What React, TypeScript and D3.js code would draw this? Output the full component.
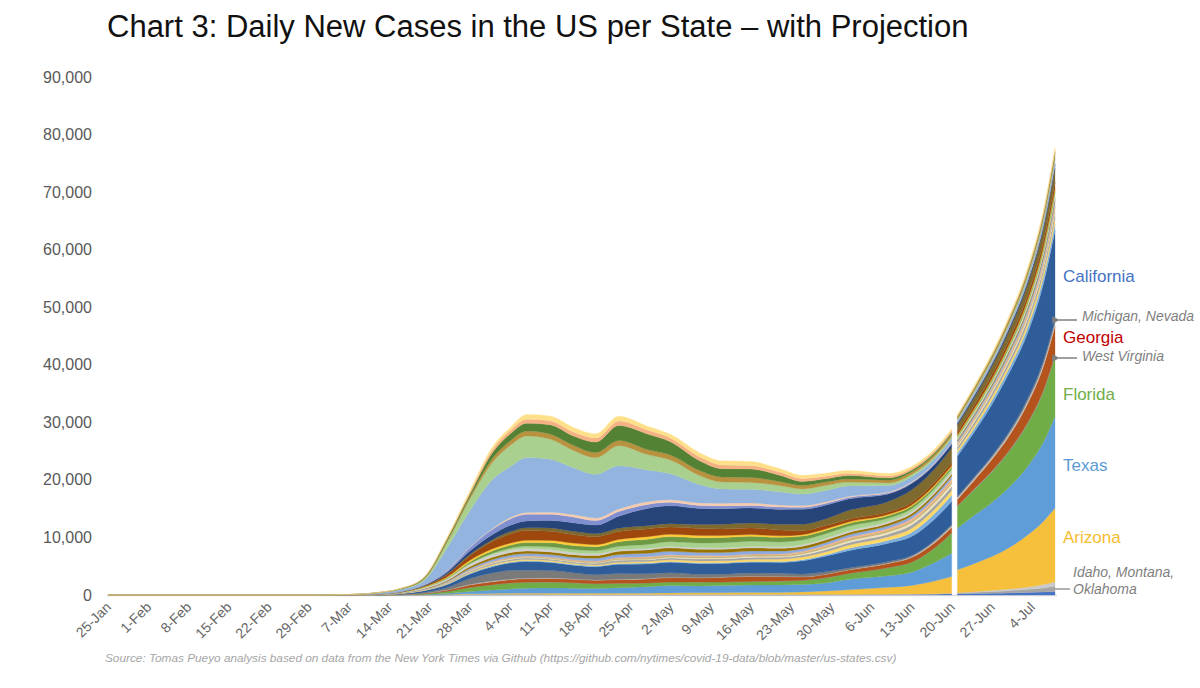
import React from "react";
import * as d3 from "d3";

// ---------- DATA ----------
const actualDates = [
  "2020-01-25", "2020-02-29", "2020-03-07", "2020-03-12", "2020-03-16", "2020-03-20", "2020-03-24",
  "2020-03-28", "2020-04-01", "2020-04-04", "2020-04-07", "2020-04-11", "2020-04-15", "2020-04-19",
  "2020-04-23", "2020-04-28", "2020-05-02", "2020-05-07", "2020-05-11", "2020-05-16", "2020-05-21",
  "2020-05-25", "2020-05-29", "2020-06-02", "2020-06-09", "2020-06-13", "2020-06-17", "2020-06-20",
];
const projectionDates = ["2020-06-21", "2020-06-24", "2020-06-27", "2020-06-30", "2020-07-03", "2020-07-06", "2020-07-08"];

const oklahoma = [0,0,0,0,2,10,30,50,70,80,80,70,60,60,60,60,60,60,60,60,60,60,70,80,90,110,150,200, 200,250,300,360,430,520,600];
const idaho = [0,0,0,0,1,5,20,50,60,50,40,30,20,15,15,10,10,10,10,10,10,10,20,20,30,40,60,80, 150,220,300,400,530,700,900];
const montana = [0,0,0,0,0,2,8,15,20,15,10,8,5,5,5,5,5,5,5,5,5,5,5,5,10,15,20,20, 50,110,180,270,400,600,800];
const arizona = [0,0,0,1,5,15,40,90,120,150,180,200,200,210,230,250,280,300,330,350,380,450,600,800,1200,1500,2200,2900, 4000,4900,5900,7200,8900,11000,12800];
const texas = [0,0,0,2,10,40,150,400,600,750,870,900,900,850,950,1100,1300,1200,1250,1300,1300,1300,1400,1800,2000,2300,3200,4050, 7200,8400,9400,10500,11800,13800,15900];
const florida = [0,0,1,10,40,150,350,700,900,1000,1000,1000,900,800,750,650,600,650,600,600,650,700,870,1000,1400,1700,2500,3500, 3800,4500,5300,6200,7300,8800,10400];
const westVirginia = [0,0,0,0,0,2,8,15,30,40,50,50,30,20,20,20,20,20,20,20,20,20,30,30,40,40,50,60, 100,120,150,180,220,260,300];
const georgia = [0,0,0,5,20,70,200,400,500,550,580,600,600,600,650,700,750,700,800,870,750,600,580,600,700,800,850,900, 1100,1500,2000,2500,3200,4100,5000];
const nevada = [0,0,0,2,10,30,60,100,120,110,100,90,70,60,60,50,50,50,40,40,40,40,50,60,90,150,250,330, 320,360,400,440,490,550,600];
const michigan = [0,0,0,5,50,120,400,1000,1400,1500,1400,1300,1100,900,1000,850,800,600,500,580,550,450,400,300,250,200,200,200, 200,230,270,320,380,440,500];
const california = [0,0,10,40,120,300,500,800,1100,1300,1500,1400,1300,1400,1600,1700,1800,1850,1850,1850,1900,2300,2700,3000,3200,3300,3700,4000, 7000,7800,8900,10200,11300,13400,15500];
const southCarolina = [0,0,0,2,10,30,60,100,150,150,150,150,140,130,140,160,150,160,150,150,160,200,250,400,500,700,950,1100, 600,670,740,820,930,1060,1200];
const alabama = [0,0,0,2,10,40,80,150,180,200,200,200,180,160,200,250,280,300,320,350,400,450,500,550,600,700,750,800, 450,500,550,610,690,790,900];
const tennessee = [0,0,0,5,20,60,120,200,250,250,250,230,250,300,350,300,320,350,350,350,320,350,400,450,500,600,650,700, 500,560,610,680,770,880,1000];
const utah = [0,0,0,1,10,30,70,100,100,100,90,80,80,90,100,120,150,160,150,160,170,200,250,300,350,400,450,500, 250,280,310,340,390,440,500];
const mississippi = [0,0,0,1,10,40,80,120,150,180,200,200,200,220,250,260,270,280,250,250,260,270,300,320,350,350,380,400, 250,280,310,340,390,440,500];
const arkansas = [0,0,0,1,5,20,40,60,70,70,80,80,80,80,120,150,150,150,150,150,150,180,220,260,300,350,400,450, 230,250,280,310,350,400,450];
const ohio = [0,0,0,2,15,60,140,250,350,400,420,450,450,500,550,600,600,550,550,550,500,450,450,450,450,450,480,500, 350,390,430,480,540,620,700];
const indiana = [0,0,0,1,5,40,120,300,400,450,450,450,450,450,550,600,600,550,550,550,500,450,450,400,400,400,380,350, 200,220,250,270,310,350,400];
const washington = [0,0,20,60,120,200,300,400,450,450,450,400,350,300,250,250,250,250,250,250,250,250,280,300,300,350,380,400, 250,280,310,340,390,440,500];
const virginia = [0,0,0,2,10,30,60,150,250,330,400,500,550,550,600,700,800,850,900,900,850,800,800,800,600,550,520,500, 250,280,310,340,390,440,500];
const maryland = [0,0,0,3,10,40,100,250,400,500,600,700,700,700,800,900,900,900,900,850,800,700,600,500,450,400,350,300, 180,200,210,240,270,310,350];
const colorado = [0,0,0,5,30,90,150,300,350,350,400,400,400,350,400,450,400,400,350,300,250,250,250,250,200,200,200,200, 150,170,180,200,230,260,300];
const louisiana = [0,0,0,5,30,100,400,800,1300,1600,1700,1600,1500,1400,1400,1330,1250,1200,1150,1150,1000,700,580,500,450,450,500,600, 550,610,680,750,850,970,1100];
const northCarolina = [0,0,0,2,10,40,100,200,300,400,500,550,550,500,550,580,600,700,800,870,1000,1100,1160,1500,1800,2200,2300,2500, 1200,1340,1470,1640,1850,2120,2400];
const illinois = [0,0,0,5,30,100,300,600,900,1100,1160,1300,1500,1500,2100,3000,3100,2800,2700,2600,2600,2600,2400,2000,1300,1100,800,700, 350,390,430,480,540,620,700];
const connecticut = [0,0,0,2,20,60,300,600,900,1100,1160,1100,1000,800,800,700,600,500,500,450,400,350,300,250,200,150,150,150, 60,70,70,80,90,110,120];
const delaware = [0,0,0,0,2,10,30,80,150,250,300,350,400,420,450,460,460,460,450,400,350,300,250,200,150,120,100,100, 50,60,60,70,80,90,100];
const newYork = [0,0,50,200,350,700,3800,6300,8500,8800,9560,9200,8200,7600,7500,5500,4500,3200,2500,2400,2300,2000,2000,1800,1100,900,700,700, 350,390,430,480,540,620,700];
const newJersey = [0,0,5,30,80,250,1000,2000,3000,3700,3760,3500,3000,2900,3500,2700,2400,1600,1200,1200,1100,900,870,700,450,400,380,350, 180,200,210,240,270,310,350];
const pennsylvania = [0,0,0,5,30,100,250,400,700,800,870,900,900,900,900,870,870,870,870,870,700,600,580,550,500,450,450,450, 350,390,430,480,540,620,700];
const massachusetts = [0,0,5,20,50,150,300,450,1000,1200,1330,1600,1600,1800,2600,2700,2300,1700,1450,1450,1100,700,580,600,400,300,250,250, 130,140,150,170,190,220,250];
const rhodeIsland = [0,0,0,5,20,60,150,300,500,600,700,700,700,700,800,700,650,700,650,600,550,500,450,400,350,300,300,300, 150,170,180,200,230,260,300];
const newHampshire = [0,0,0,5,20,60,150,300,500,500,800,800,800,750,800,650,650,700,700,700,600,550,500,450,400,350,350,350, 240,270,290,330,370,420,480];

const stateNames = [
  "Oklahoma", "Idaho", "Montana", "Arizona", "Texas", "Florida", "West Virginia", "Georgia", "Nevada",
  "Michigan", "California", "South Carolina", "Alabama", "Tennessee", "Utah", "Mississippi", "Arkansas",
  "Ohio", "Indiana", "Washington", "Virginia", "Maryland", "Colorado", "Louisiana", "North Carolina",
  "Illinois", "Connecticut", "Delaware", "New York", "New Jersey", "Pennsylvania", "Massachusetts",
  "Rhode Island", "New Hampshire",
];
const stateValues = [
  oklahoma, idaho, montana, arizona, texas, florida, westVirginia, georgia, nevada, michigan, california,
  southCarolina, alabama, tennessee, utah, mississippi, arkansas, ohio, indiana, washington, virginia,
  maryland, colorado, louisiana, northCarolina, illinois, connecticut, delaware, newYork, newJersey,
  pennsylvania, massachusetts, rhodeIsland, newHampshire,
];
const stateColors = [
  "#4472C4", "#A5A5A5", "#C9C9C9", "#F6BF3C", "#5F9DD8", "#70AD47", "#8C8C8C", "#B4531B", "#BDBDBD",
  "#7A7A7A", "#2F5D9A", "#7CAFDD", "#FFD966", "#A5A5A5", "#EEE4BE", "#C9B57A", "#F4B183",
  "#8FAADC", "#997300", "#D0D0D0", "#A9D18E", "#6F9A45", "#FFCD33", "#9E480E", "#7E6A2F",
  "#264478", "#7F8FD0", "#F8CBAD", "#92B4DE", "#A9D08E", "#B8923F", "#548235",
  "#F4B183", "#FFE08A",
];

const yTicks = [0, 10000, 20000, 30000, 40000, 50000, 60000, 70000, 80000, 90000];

const FONT = "'Liberation Sans', Arial, Helvetica, sans-serif";

export default function App() {
  const parse = d3.timeParse("%Y-%m-%d");
  const allDates = [...actualDates, ...projectionDates].map((s) => parse(s) as Date);

  const x = d3.scaleTime().domain([parse("2020-01-25") as Date, parse("2020-07-08") as Date]).range([108, 1055]);
  const y = d3.scaleLinear().domain([0, 90000]).range([595, 77]);

  const rows = allDates.map((d, i) => {
    const r: any = { date: d };
    stateNames.forEach((n, k) => (r[n] = stateValues[k][i]));
    return r;
  });
  const nA = actualDates.length;
  const stack = d3.stack<any>().keys(stateNames);
  const actualStack = stack(rows.slice(0, nA));
  const projStack = stack(rows.slice(nA));

  const area = d3
    .area<any>()
    .x((d: any) => x(d.data.date))
    .y0((d: any) => y(d[0]))
    .y1((d: any) => y(d[1]))
    .curve(d3.curveMonotoneX);

  const xTicks = d3.timeSaturday.range(parse("2020-01-25") as Date, parse("2020-07-05") as Date);
  const fmtDate = d3.timeFormat("%-d-%b");
  const fmtNum = d3.format(",");

  const gray = "#7F7F7F";

  return (
    <svg
      width={1200}
      height={688}
      style={{ position: "absolute", left: 0, top: 0, background: "#fff", fontFamily: FONT }}
    >
      <defs>
        <marker id="arr" viewBox="0 0 10 10" refX="1" refY="5" markerWidth="5" markerHeight="5" orient="auto">
          <path d="M10,0 L0,5 L10,10 z" fill={gray} />
        </marker>
      </defs>
      <rect x={0} y={0} width={1200} height={688} fill="#fff" />

      <text x={107} y={37} fontSize={31} fill="#111">
        Chart 3: Daily New Cases in the US per State – with Projection
      </text>

      {/* y axis labels */}
      {yTicks.map((t) => (
        <text key={t} x={92} y={y(t)} dy="0.35em" textAnchor="end" fontSize={16} fill="#595959">
          {fmtNum(t)}
        </text>
      ))}

      {/* baseline */}
      <line x1={107} x2={1057} y1={y(0) + 0.5} y2={y(0) + 0.5} stroke="#D9D9D9" strokeWidth={1.5} />

      {/* stacked areas */}
      <g>
        {actualStack.map((s, i) => (
          <path key={"a" + i} d={area(s) || ""} fill={stateColors[i]} stroke={stateColors[i]} strokeWidth={0.3} />
        ))}
        {projStack.map((s, i) => (
          <path key={"p" + i} d={area(s) || ""} fill={stateColors[i]} stroke={stateColors[i]} strokeWidth={0.3} />
        ))}
      </g>

      {/* x tick labels */}
      {xTicks.map((d, i) => (
        <text
          key={i}
          transform={`translate(${x(d) + 4},${608}) rotate(-45)`}
          textAnchor="end"
          fontSize={14}
          fill="#666666"
        >
          {fmtDate(d)}
        </text>
      ))}

      {/* right labels */}
      <text x={1063} y={282} fontSize={17} fill="#4472C4">California</text>
      <text x={1082} y={321} fontSize={14} fontStyle="italic" fill={gray}>Michigan, Nevada</text>
      <line x1={1077} x2={1059} y1={320} y2={320} stroke={gray} strokeWidth={1.5} markerEnd="url(#arr)" />
      <text x={1063} y={343} fontSize={17} fill="#C00000">Georgia</text>
      <text x={1082} y={361} fontSize={14} fontStyle="italic" fill={gray}>West Virginia</text>
      <line x1={1077} x2={1059} y1={358} y2={358} stroke={gray} strokeWidth={1.5} markerEnd="url(#arr)" />
      <text x={1063} y={400} fontSize={17} fill="#70AD47">Florida</text>
      <text x={1063} y={471} fontSize={17} fill="#5B9BD5">Texas</text>
      <text x={1063} y={543} fontSize={17} fill="#F5BC2E">Arizona</text>
      <text x={1073} y={577} fontSize={14} fontStyle="italic" fill={gray}>Idaho, Montana,</text>
      <text x={1073} y={594} fontSize={14} fontStyle="italic" fill={gray}>Oklahoma</text>
      <line x1={1055} x2={1070} y1={589} y2={589} stroke={gray} strokeWidth={1.2} />

      {/* source */}
      <text x={105} y={662} fontSize={11.8} fontStyle="italic" fill="#A6A6A6">
        Source: Tomas Pueyo analysis based on data from the New York Times via Github
        (https://github.com/nytimes/covid-19-data/blob/master/us-states.csv)
      </text>
    </svg>
  );
}
